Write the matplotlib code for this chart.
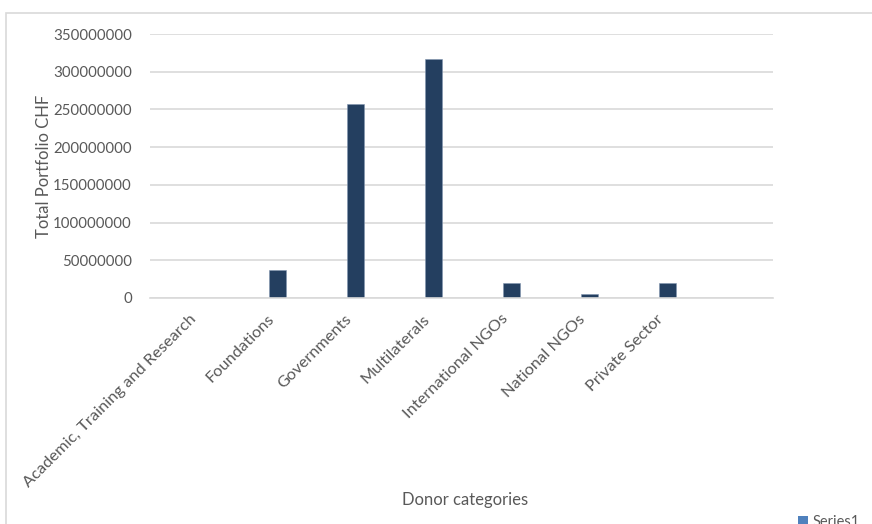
import numpy as np
import matplotlib.pyplot as plt
from matplotlib.patches import Rectangle

categories = ["Academic, Training and Research", "Foundations", "Governments",
              "Multilaterals", "International NGOs", "National NGOs",
              "Private Sector", ""]
portfolio = [0, 37000000, 257000000, 316500000, 19500000, 5300000, 19500000, 0]
series1 = [0, 0, 0, 0, 0, 0, 0, 0]
yticks = [0, 50000000, 100000000, 150000000, 200000000, 250000000, 300000000, 350000000]

plt.rcParams['font.family'] = ['Lato', 'DejaVu Sans']
grey = '#595959'

fig = plt.figure(figsize=(8.72, 5.24), dpi=100)
ax = fig.add_axes([0.172, 0.4313, 0.7145, 0.5037])

x = np.arange(len(categories))
ax.bar(x - 0.14, series1, width=0.22, color='#4F81BD', label='Series1')
ax.bar(x + 0.14, portfolio, width=0.22, color='#243F60', edgecolor='#8196B0', linewidth=0.4)

ax.set_xlim(-0.5, len(categories) - 0.5)
ax.set_ylim(0, 350000000)
ax.set_yticks(yticks)
ax.set_yticklabels([str(v) for v in yticks])
ax.yaxis.grid(True, color='#D9D9D9', linewidth=1.2)
ax.set_axisbelow(True)
for s in ['top', 'right', 'left']:
    ax.spines[s].set_visible(False)
ax.spines['bottom'].set_color('#D9D9D9')
ax.spines['bottom'].set_linewidth(1.2)
ax.tick_params(length=0, colors=grey, labelsize=10.8)
ax.tick_params(axis='y', pad=13)

ax.set_xticks(x)
ax.set_xticklabels(categories, rotation=45, ha='right', va='top',
                   rotation_mode='anchor', fontsize=11.8)
ax.tick_params(axis='x', pad=10)

ax.set_ylabel('Total Portfolio CHF', color=grey, fontsize=12, labelpad=1)
fig.text(0.533, 0.045, 'Donor categories', color=grey, fontsize=12,
         ha='center', va='center')

# chart area border (cropped on the right and bottom)
fig.patches.append(Rectangle((6 / 872, -0.1), 1.0, 0.1 + (1 - 13.5 / 524),
                             transform=fig.transFigure, fill=False,
                             edgecolor='#D9D9D9', linewidth=1.2))

fig.legend(loc='center left', bbox_to_anchor=(0.908, 0.004), frameon=False,
           fontsize=10.5, labelcolor=grey, handlelength=0.7, handleheight=0.7,
           handletextpad=0.3, borderaxespad=0)

fig.savefig('out.png', dpi=100)
